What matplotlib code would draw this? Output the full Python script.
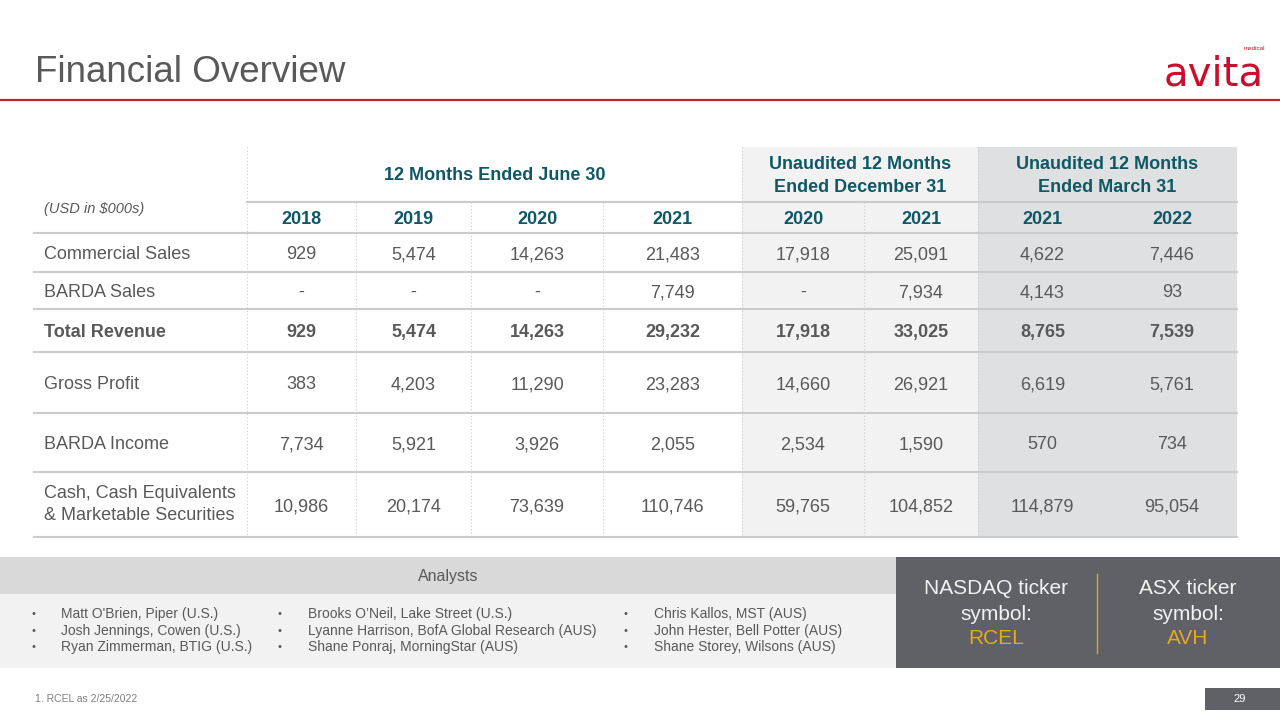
import matplotlib.pyplot as plt
from matplotlib.patches import Rectangle

plt.rcParams['font.family'] = ['Liberation Sans', 'DejaVu Sans']

# table data
row_labels = ["Commercial Sales", "BARDA Sales", "Total Revenue", "Gross Profit",
              "BARDA Income", "Cash, Cash Equivalents\n& Marketable Securities"]
years = ["2018", "2019", "2020", "2021", "2020", "2021", "2021", "2022"]
groups = ["12 Months Ended June 30", "Unaudited 12 Months\nEnded December 31",
          "Unaudited 12 Months\nEnded March 31"]

commercial_sales = [929, 5474, 14263, 21483, 17918, 25091, 4622, 7446]
barda_sales = [None, None, None, 7749, None, 7934, 4143, 93]
total_revenue = [929, 5474, 14263, 29232, 17918, 33025, 8765, 7539]
gross_profit = [383, 4203, 11290, 23283, 14660, 26921, 6619, 5761]
barda_income = [7734, 5921, 3926, 2055, 2534, 1590, 570, 734]
cash = [10986, 20174, 73639, 110746, 59765, 104852, 114879, 95054]

rows = [commercial_sales, barda_sales, total_revenue, gross_profit, barda_income, cash]

analysts_1 = ["Matt O'Brien, Piper (U.S.)", "Josh Jennings, Cowen (U.S.)",
              "Ryan Zimmerman, BTIG (U.S.)"]
analysts_2 = ["Brooks O\u2019Neil, Lake Street (U.S.)",
              "Lyanne Harrison, BofA Global Research (AUS)",
              "Shane Ponraj, MorningStar (AUS)"]
analysts_3 = ["Chris Kallos, MST (AUS)", "John Hester, Bell Potter (AUS)",
              "Shane Storey, Wilsons (AUS)"]

tickers = [("NASDAQ ticker", "RCEL"), ("ASX ticker", "AVH")]

# layout (pixels)
col_edges = [247, 356, 471, 603, 742, 864, 978, 1107, 1237]
group_edges = [247, 742, 978, 1237]
row_edges = [233, 272, 309, 352, 413, 472, 537]
tab_left = 34
tab_top = 147
head_line = 202

grey = '#595959'
teal = '#0f5865'
line_c = '#cbcbcb'

fig = plt.figure(figsize=(12.8, 7.2), dpi=100)
ax = fig.add_axes([0, 0, 1, 1])
ax.set_xlim(0, 1280)
ax.set_ylim(720, 0)
ax.axis('off')

# title + red rule + logo
ax.text(35, 73, "Financial Overview", fontsize=26.5, color=grey, va='center')
ax.plot([0, 1280], [100, 100], color='#c0272d', lw=1.6)
ax.text(1214, 74, "avita", fontsize=29, color='#c8102e', ha='center', va='center',
        family='DejaVu Sans')
ax.text(1254, 48, "medical", fontsize=4.5, color='#c8102e', ha='center', va='center')

# shading for the unaudited groups
ax.add_patch(Rectangle((group_edges[1], tab_top), group_edges[2] - group_edges[1],
                       row_edges[-1] - tab_top, color='#f2f2f2', lw=0))
ax.add_patch(Rectangle((group_edges[2], tab_top), group_edges[3] - group_edges[2],
                       row_edges[-1] - tab_top, color='#dfe0e2', lw=0))

# horizontal lines
ax.plot([group_edges[0], col_edges[-1]], [head_line, head_line], color=line_c, lw=1.5)
for y in row_edges:
    ax.plot([tab_left, col_edges[-1]], [y, y], color=line_c, lw=1.5)

# dotted vertical lines
for x in group_edges[:-1]:
    ax.plot([x, x], [tab_top, row_edges[-1]], color=line_c, lw=0.8, ls=(0, (1, 2)))
for x in [356, 471, 603, 864]:
    ax.plot([x, x], [head_line, row_edges[-1]], color=line_c, lw=0.8, ls=(0, (1, 2)))

# header text
for i, g in enumerate(groups):
    xc = (group_edges[i] + group_edges[i + 1]) / 2
    ax.text(xc, 176, g, fontsize=13, color=teal, weight='bold', ha='center',
            va='center', linespacing=1.4)
ax.text(44, 209, "(USD in $000s)", fontsize=10.5, color=grey, style='italic', va='center')
for i, yr in enumerate(years):
    xc = (col_edges[i] + col_edges[i + 1]) / 2
    ax.text(xc, 219, yr, fontsize=13, color=teal, weight='bold', ha='center', va='center')

# body
for r, (lab, vals) in enumerate(zip(row_labels, rows)):
    yc = (row_edges[r] + row_edges[r + 1]) / 2
    w = 'bold' if lab == "Total Revenue" else 'normal'
    lva = 'center' if '\n' in lab else 'center_baseline'
    ax.text(44, yc, lab, fontsize=13, color=grey, weight=w, va=lva, linespacing=1.35)
    for i, v in enumerate(vals):
        xc = (col_edges[i] + col_edges[i + 1]) / 2
        s = '-' if v is None else f"{v:,}"
        ax.text(xc, yc, s, fontsize=13, color=grey, weight=w, ha='center',
                va='center_baseline')

# analysts panel
ax.add_patch(Rectangle((0, 557), 896, 37, color='#d9d9d9', lw=0))
ax.add_patch(Rectangle((0, 594), 896, 74, color='#f2f2f2', lw=0))
ax.text(448, 577, "Analysts", fontsize=11.5, color=grey, ha='center', va='center')
for bx, tx, names in [(34, 61, analysts_1), (280, 308, analysts_2), (626, 654, analysts_3)]:
    for j, n in enumerate(names):
        y = 614 + j * 16.5
        ax.text(bx, y, "\u2022", fontsize=8, color=grey, ha='center', va='center')
        ax.text(tx, y, n, fontsize=10, color=grey, va='center')

# ticker box
ax.add_patch(Rectangle((896, 557), 384, 111, color='#5f6166', lw=0))
ax.plot([1097, 1097], [574, 653], color='#e0a526', lw=1)
for xc, (lab, sym) in zip([996, 1188], tickers):
    ax.text(xc, 588, lab, fontsize=15, color='#f2f2f2', ha='center', va='center')
    ax.text(xc, 614, "symbol:", fontsize=15, color='#f2f2f2', ha='center', va='center')
    ax.text(xc, 639, sym, fontsize=15, color='#e8a723', ha='center', va='center')

# footer
ax.text(35, 699, "1. RCEL as 2/25/2022", fontsize=7.5, color='#7f7f7f', va='center')
ax.add_patch(Rectangle((1205, 688), 75, 22, color='#5f6166', lw=0))
ax.text(1240, 699, "29", fontsize=8, color='white', ha='center', va='center')

fig.savefig('out.png', dpi=100)
